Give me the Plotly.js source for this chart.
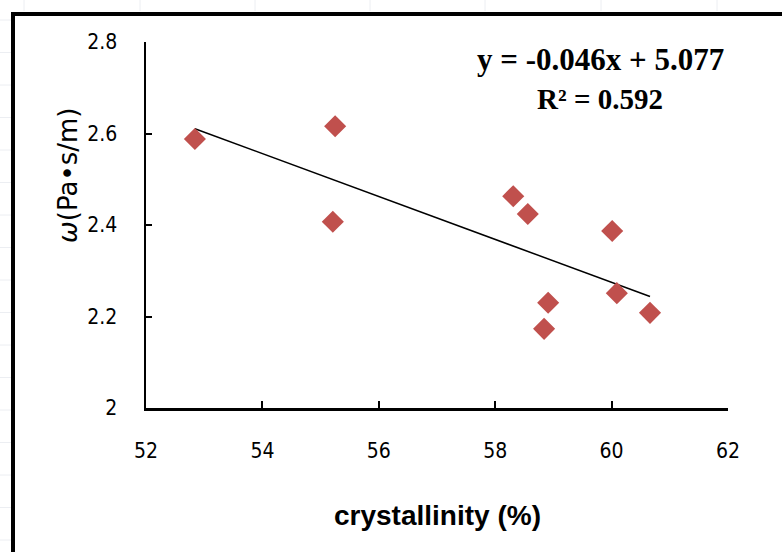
<!DOCTYPE html>
<html>
<head>
<meta charset="utf-8">
<script src="https://cdn.plot.ly/plotly-3.0.1.min.js"></script>
<style>html,body{margin:0;padding:0;background:#fff;}#chart{width:782px;height:552px;}</style>
</head>
<body>
<div id="chart"></div>
<script>
// Data
const crystallinity = [52.84, 55.25, 55.21, 58.31, 58.56, 60.01, 58.91, 58.84, 60.09, 60.66];
const omega = [2.588, 2.616, 2.407, 2.463, 2.424, 2.387, 2.230, 2.173, 2.251, 2.208];
const xTicks = [52, 54, 56, 58, 60, 62];
const yTicks = [2, 2.2, 2.4, 2.6, 2.8];
const xTitle = "crystallinity (%)";
const yTitle = "<i>ω</i>(Pa•s/m)";
const equationText = "y = -0.046x + 5.077";
const r2Text = "R² = 0.592";

// Linear least-squares trend line computed from the data
const n = crystallinity.length;
const mx = crystallinity.reduce((a, b) => a + b, 0) / n;
const my = omega.reduce((a, b) => a + b, 0) / n;
let sxy = 0, sxx = 0;
for (let i = 0; i < n; i++) {
  sxy += (crystallinity[i] - mx) * (omega[i] - my);
  sxx += (crystallinity[i] - mx) ** 2;
}
const slope = sxy / sxx;
const intercept = my - slope * mx;
const trendX = [Math.min(...crystallinity), Math.max(...crystallinity)];
const trendY = trendX.map(x => slope * x + intercept);

// layout geometry (pixels)
const W = 782, H = 552, L = 146, R = 54, T = 42, B = 144;
const pw = W - L - R, ph = H - T - B;
const px = x => (x - L) / pw;          // pixel x -> paper
const py = y => (H - B - y) / ph;      // pixel y -> paper

const tickFont = {family: "Liberation Sans Narrow, DejaVu Sans Condensed, sans-serif", size: 21, color: "#000"};

const data = [
  {x: trendX, y: trendY, type: "scatter", mode: "lines",
   line: {color: "#000", width: 1.5}, hoverinfo: "skip", showlegend: false},
  {x: crystallinity, y: omega, type: "scatter", mode: "markers",
   marker: {symbol: "diamond", size: 17, color: "#C0504D", line: {width: 0}},
   showlegend: false}
];

// faint spreadsheet cell lines outside the frame
const shapes = [];
[24, 140, 255, 370, 485, 601, 717].forEach(x => shapes.push({
  type: "line", xref: "paper", yref: "paper", x0: px(x), x1: px(x), y0: py(0), y1: py(11),
  line: {color: "#eceef2", width: 1}, layer: "below"}));
for (let y = 20; y < H; y += 32.5) shapes.push({
  type: "line", xref: "paper", yref: "paper", x0: px(0), x1: px(11), y0: py(y), y1: py(y),
  line: {color: "#eceef2", width: 1}, layer: "below"});
// black frame
shapes.push({type: "rect", xref: "paper", yref: "paper",
  x0: px(13), x1: px(900), y0: py(900), y1: py(14),
  line: {color: "#000", width: 4}, fillcolor: "rgba(0,0,0,0)", layer: "below"});

const layout = {
  width: W, height: H,
  margin: {l: L, r: R, t: T, b: B},
  paper_bgcolor: "#fff", plot_bgcolor: "#fff",
  showlegend: false,
  xaxis: {
    range: [52, 62], tickvals: xTicks, ticktext: xTicks.map(String),
    ticks: "inside", ticklen: 7, tickwidth: 2, tickcolor: "#000",
    showline: true, linecolor: "#000", linewidth: 2.5,
    showgrid: false, zeroline: false,
    tickfont: tickFont, ticklabelstandoff: 22
  },
  yaxis: {
    range: [2, 2.8], tickvals: yTicks, ticktext: yTicks.map(v => v === 2 ? "2" : v.toFixed(1)),
    ticks: "inside", ticklen: 6, tickwidth: 2, tickcolor: "#000",
    showline: true, linecolor: "#000", linewidth: 2.5,
    showgrid: false, zeroline: false,
    tickfont: tickFont, ticklabelstandoff: 22
  },
  annotations: [
    {xref: "paper", yref: "paper", x: px(437), y: py(515), xanchor: "center", yanchor: "middle",
     text: "<b>" + xTitle + "</b>", showarrow: false,
     font: {family: "Liberation Sans, Arial, sans-serif", size: 28, color: "#000"}},
    {xref: "paper", yref: "paper", x: px(68), y: py(176), xanchor: "center", yanchor: "middle",
     text: yTitle, textangle: -90, showarrow: false,
     font: {family: "DejaVu Sans, sans-serif", size: 26, color: "#000"}},
    {xref: "paper", yref: "paper", x: px(600), y: py(59), xanchor: "center", yanchor: "middle",
     text: "<b>" + equationText + "</b>", showarrow: false,
     font: {family: "Liberation Serif, Times New Roman, serif", size: 31, color: "#000"}},
    {xref: "paper", yref: "paper", x: px(600), y: py(99), xanchor: "center", yanchor: "middle",
     text: "<b>" + r2Text + "</b>", showarrow: false,
     font: {family: "Liberation Serif, Times New Roman, serif", size: 29, color: "#000"}}
  ],
  shapes: shapes
};

Plotly.newPlot("chart", data, layout, {staticPlot: true, displayModeBar: false});
</script>
</body>
</html>
